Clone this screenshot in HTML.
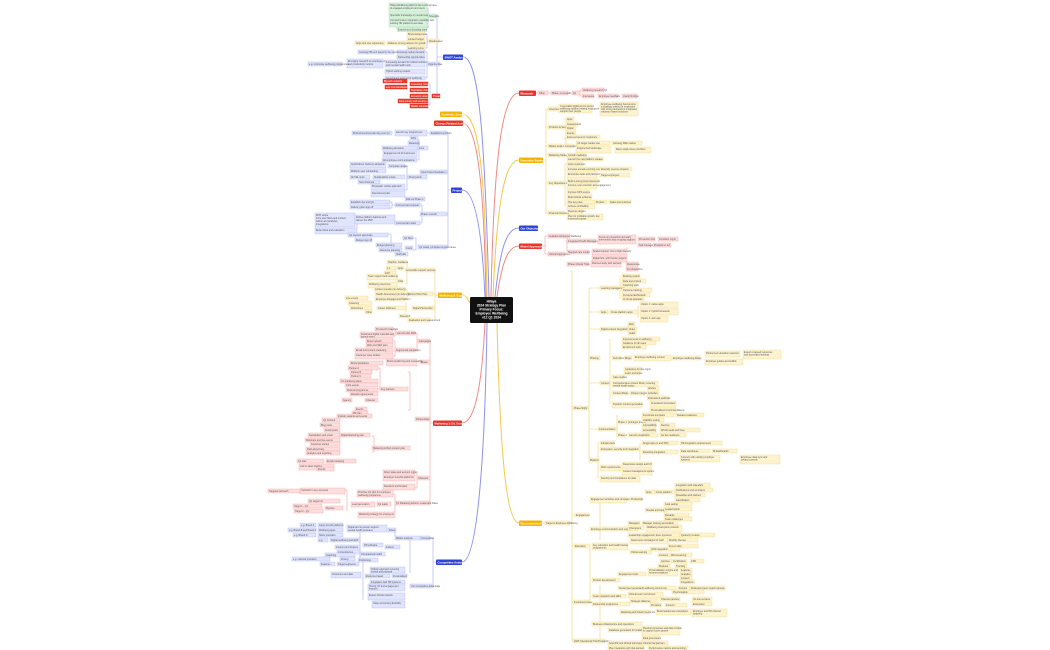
<!DOCTYPE html>
<html><head><meta charset="utf-8"><style>
html,body{margin:0;padding:0;background:#fff;width:1050px;height:650px;overflow:hidden}
svg{display:block;font-family:"Liberation Sans",sans-serif}
text{font-size:2.4px;fill:#555}
.bl rect{fill:#e0e4fc;stroke:#b0b8f4;stroke-width:.4}
.or rect{fill:#fdf3cf;stroke:#f1d98a;stroke-width:.4}
.rd rect{fill:#fddede;stroke:#f3a8a4;stroke-width:.4}
.gr rect{fill:#d9f2dd;stroke:#a3dbab;stroke-width:.4}
.rs rect{fill:#ef3b2d;stroke:#c92a1f;stroke-width:.4}
.rs text{fill:#fff}
.lb{stroke:#a3aaf2;fill:none;stroke-width:.6}
.lo{stroke:#f5d06a;fill:none;stroke-width:.6}
.lr{stroke:#f5a09a;fill:none;stroke-width:.6}
.m rect{stroke:none}
.m text{fill:#fff;font-size:2.8px;font-weight:bold}
</style></head><body>
<svg width="1050" height="650" viewBox="0 0 1050 650">
<!-- main connectors -->
<g stroke-width="1" fill="none">
<path d="M491 297 C494 150,503 93,519 93" stroke="#f08a84"/>
<path d="M493 297 C497 200,505 160,519 160" stroke="#f5c84a"/>
<path d="M495 297 C500 250,506 228,519 228" stroke="#8c93ee"/>
<path d="M497 297 C502 262,508 246,519 246" stroke="#f08a84"/>
<path d="M497 323 C500 450,506 523,519 523" stroke="#f5c84a"/>
<path d="M489 297 C485 150,480 57,463 57" stroke="#8c93ee"/>
<path d="M487 297 C485 180,480 114,462 114" stroke="#f5c84a"/>
<path d="M486 297 C484 190,478 123,462 123" stroke="#f08a84"/>
<path d="M485 297 C482 230,475 190,462 190" stroke="#8c93ee"/>
<path d="M470 303 C467 298,466 295,462 295" stroke="#f5c84a"/>
<path d="M485 323 C482 380,476 423,462 423" stroke="#f08a84"/>
<path d="M487 323 C485 450,478 562,462 562" stroke="#8c93ee"/>
</g>

<!-- center -->
<rect x="470" y="297" width="43" height="26" rx="1.5" fill="#111"/>
<g font-size="3.4" fill="#fff" text-anchor="middle" style="font-weight:bold">
<text x="491.5" y="302.5" style="fill:#fff;font-size:3.3px">Hilaya</text>
<text x="491.5" y="306.5" style="fill:#fff;font-size:3.3px">2024 Strategy Plan</text>
<text x="491.5" y="310.5" style="fill:#fff;font-size:3.3px">Primary Focus:</text>
<text x="491.5" y="314.5" style="fill:#fff;font-size:3.3px">Employee Wellbeing</text>
<text x="491.5" y="318.5" style="fill:#fff;font-size:3.3px">v12 Q1 2024</text>
</g>

<!-- main nodes -->
<g class="m">
<rect x="519" y="90.5" width="17" height="5.5" rx="1" fill="#e8342a"/><text x="520.5" y="94.3">Research</text>
<rect x="519" y="157.5" width="24" height="5.5" rx="1" fill="#f4b400"/><text x="520.5" y="161.3">Executive Summary</text>
<rect x="519" y="225.5" width="19" height="5.5" rx="1" fill="#2f44d6"/><text x="520.5" y="229.3">Our Objectives</text>
<rect x="519" y="243.5" width="23" height="5.5" rx="1" fill="#e8342a"/><text x="520.5" y="247.3">Model Approaches</text>
<rect x="519" y="520.5" width="23" height="5.5" rx="1" fill="#f4b400"/><text x="520.5" y="524.3">Recommended Plan</text>
<rect x="443" y="54.5" width="20" height="5.5" rx="1" fill="#2f44d6"/><text x="444.5" y="58.3">SWOT Analysis</text>
<rect x="440" y="111.5" width="22" height="5.5" rx="1" fill="#f4b400"/><text x="441.5" y="115.3">Academic Structure</text>
<rect x="434" y="120.5" width="29" height="5.5" rx="1" fill="#e8342a"/><text x="435.5" y="124.3">Change Related Activity</text>
<rect x="451" y="187.5" width="11" height="5.5" rx="1" fill="#2f44d6"/><text x="452.5" y="191.3">Project</text>
<rect x="438" y="292.5" width="24" height="5.5" rx="1" fill="#f4b400"/><text x="439.5" y="296.3">Wellbeing &amp; Support</text>
<rect x="433" y="420.5" width="29" height="5.5" rx="1" fill="#e8342a"/><text x="434.5" y="424.3">Marketing &amp; Ed. Strategy</text>
<rect x="436" y="559.5" width="26" height="5.5" rx="1" fill="#2f44d6"/><text x="437.5" y="563.3">Competitive Analysis</text>
</g>

<!-- ============ SWOT ============ -->
<path class="lb" d="M443 57H437 M437 16V96 M437 16H429 M437 41H429 M437 64H440 M437 96H432 M427 8H428V28H427 M427 16H429 M425 34H427V48H425 M427 41H429 M425 52H427V78H425 M427 64H428 M410 84H430V105H428 M430 96H432"/>
<g class="gr">
<rect x="389" y="3" width="38" height="9"/><text x="390" y="6">Hilaya Wellbeing platform has a strong base</text><text x="390" y="9">of engaged employers and users</text>
<rect x="389" y="13" width="38" height="4"/><text x="390" y="16">Specialist knowledge in mental health</text>
<rect x="389" y="18" width="38" height="9"/><text x="390" y="21">Comprehensive integration capability with</text><text x="390" y="24">existing HR platforms and data</text>
<rect x="397" y="27.5" width="30" height="4"/><text x="398" y="30.5">Experienced founding team</text>
<rect x="428" y="14" width="9" height="4"/><text x="429" y="17">Strengths</text>
</g>
<g class="or">
<rect x="407" y="32" width="18" height="4"/><text x="408" y="35">Brand awareness</text>
<rect x="407" y="37" width="18" height="4"/><text x="408" y="40">Limited budget</text>
<rect x="387" y="41" width="38" height="4"/><text x="388" y="44">Reliance on key partners for growth</text>
<rect x="355" y="41" width="30" height="4"/><text x="356" y="44">Apps and user experience</text>
<rect x="407" y="46" width="18" height="4"/><text x="408" y="49">Learning curve</text>
<rect x="428" y="39" width="11" height="4"/><text x="429" y="42">Weaknesses</text>
</g>
<g class="bl">
<rect x="397" y="50" width="28" height="4"/><text x="398" y="53">Growing market demand</text>
<rect x="358" y="50" width="36" height="4"/><text x="359" y="53">Growing HR tech spend in the sector</text>
<rect x="397" y="55" width="28" height="4"/><text x="398" y="58">Partnership opportunities</text>
<rect x="347" y="59" width="36" height="9"/><text x="348" y="62">Emerging research on employee wellbeing</text><text x="348" y="65">and productivity metrics</text>
<rect x="385" y="60" width="40" height="7"/><text x="386" y="63">Increasing demand for holistic solutions</text><text x="386" y="66">and mental health tools</text>
<rect x="308" y="62" width="34" height="4"/><text x="309" y="65">e.g. Corporate wellbeing programmes</text>
<rect x="385" y="69" width="40" height="5"/><text x="386" y="72">Hybrid working models</text>
<rect x="385" y="76" width="40" height="4"/><text x="386" y="79">Government support for wellbeing</text>
<rect x="427" y="62" width="13" height="4"/><text x="428" y="65">Opportunities</text>
</g>
<g class="rs">
<rect x="410" y="82" width="18" height="4"/><text x="411" y="85">Increasing competition</text>
<rect x="383" y="79" width="24" height="4"/><text x="384" y="82">Big tech entrants</text>
<rect x="385" y="85" width="22" height="4"/><text x="386" y="88">Low cost substitutes</text>
<rect x="410" y="88" width="18" height="4"/><text x="411" y="91">Regulatory change</text>
<rect x="410" y="94" width="18" height="4"/><text x="411" y="97">Economic downturn</text>
<rect x="398" y="99" width="30" height="4"/><text x="399" y="102">Data privacy and security concerns</text>
<rect x="410" y="104" width="18" height="4"/><text x="411" y="107">Market saturation</text>
<rect x="432" y="94" width="8" height="4"/><text x="433" y="97">Threats</text>
</g>

<!-- ============ Project ============ -->
<path class="lb" d="M451 190H448 M448 133V247 M448 133H447 M448 172H447 M448 214H447 M448 247H447 M427 133H430 M418 140H419V160H418 M419 148H420 M405 166H407V190H405 M407 177H408 M420 205H422V223H420 M390 202H392V208H390 M392 205H395 M355 220H357V228 M413 238H416V250H413 M388 234H391V250"/>
<g class="bl">
<rect x="430" y="131" width="17" height="4"/><text x="431" y="134">Establishment Plan</text>
<rect x="395" y="130" width="32" height="6"/><text x="396" y="133">Launch key programmes</text>
<rect x="352" y="131" width="40" height="4"/><text x="353" y="134">Build all sections planning over Q1</text>
<rect x="410" y="136" width="8" height="4"/><text x="411" y="139">KPIs</text>
<rect x="408" y="141" width="10" height="4"/><text x="409" y="144">Marketing</text>
<rect x="382" y="146" width="36" height="4"/><text x="383" y="149">Wellbeing all teams</text>
<rect x="418" y="146" width="10" height="4"/><text x="419" y="149">Core</text>
<rect x="383" y="151" width="34" height="6"/><text x="384" y="154">Engagement of all customers</text>
<rect x="382" y="158" width="35" height="4"/><text x="383" y="161">All employee communications</text>
<rect x="420" y="170" width="27" height="4"/><text x="421" y="173">Clear brand foundation</text>
<rect x="388" y="164" width="17" height="4"/><text x="389" y="167">Corporate design</text>
<rect x="350" y="162" width="36" height="6"/><text x="351" y="165">Applications: Delivery alongside</text>
<rect x="350" y="169" width="36" height="4"/><text x="351" y="172">Platform user onboarding</text>
<rect x="373" y="175" width="32" height="4"/><text x="374" y="178">Sustainability model</text>
<rect x="408" y="175" width="19" height="4"/><text x="409" y="178">Proof points</text>
<rect x="350" y="175" width="20" height="4"/><text x="351" y="178">All TRL work</text>
<rect x="358" y="180" width="22" height="4"/><text x="359" y="183">New channels</text>
<rect x="371" y="184" width="34" height="6"/><text x="372" y="187">Proposals: outline approach</text>
<rect x="371" y="191" width="34" height="6"/><text x="372" y="194">Recruitment plan</text>
<rect x="405" y="197" width="20" height="4"/><text x="406" y="200">Roll out Phase 1</text>
<rect x="420" y="212" width="27" height="4"/><text x="421" y="215">Phase: Launch</text>
<rect x="350" y="200" width="40" height="4"/><text x="351" y="203">Establish dev and QA</text>
<rect x="350" y="205" width="40" height="4"/><text x="351" y="208">Delivery plan sign off</text>
<rect x="395" y="203" width="25" height="4"/><text x="396" y="206">Commercial proposal</text>
<rect x="315" y="213" width="40" height="14"/><text x="316" y="216">MVP scope</text><text x="316" y="219">Core user flows and content</text><text x="316" y="222">Admin and analytics</text><text x="316" y="225">Integrations</text>
<rect x="355" y="215" width="40" height="9"/><text x="356" y="218">Define platform features and</text><text x="356" y="221">deliver the MVP</text>
<rect x="395" y="221" width="25" height="4"/><text x="396" y="224">Commercial model</text>
<rect x="315" y="228" width="42" height="6"/><text x="316" y="231">Beta rollout and evaluation</text>
<rect x="348" y="233" width="40" height="4"/><text x="349" y="236">Q1 sponsor approvals</text>
<rect x="355" y="238" width="17" height="4"/><text x="356" y="241">Budget sign off</text>
<rect x="376" y="243" width="26" height="4"/><text x="377" y="246">Budget planning</text>
<rect x="403" y="236" width="10" height="4"/><text x="404" y="239">Q1 Plan</text>
<rect x="405" y="246" width="8" height="4"/><text x="406" y="249">Costs</text>
<rect x="379" y="248" width="23" height="4"/><text x="380" y="251">Resource planning</text>
<rect x="395" y="252" width="13" height="4"/><text x="396" y="255">Staff plan</text>
<rect x="418" y="245" width="29" height="4"/><text x="419" y="248">Q1 Goals, principles &amp; governance</text>
</g>

<!-- ============ Wellbeing ============ -->
<path class="lo" d="M438 295H435 M435 270V320 M435 270H434 M435 294H433 M435 308H434 M405 262H407V284H405 M405 289H407V299H405 M405 303H406V312H405"/>
<g class="or">
<rect x="405" y="268" width="30" height="4"/><text x="406" y="271">Accessible support services</text>
<rect x="397" y="260" width="10" height="4"/><text x="398" y="263">Guidance</text>
<rect x="387" y="260" width="9" height="4"/><text x="388" y="263">Helpline</text>
<rect x="397" y="266" width="6" height="4"/><text x="398" y="269">Apps</text>
<rect x="386" y="266" width="10" height="4"/><text x="387" y="269">1:1</text>
<rect x="384" y="271" width="12" height="4"/><text x="385" y="274">EAP</text>
<rect x="367" y="274" width="30" height="6"/><text x="368" y="277">Team support and wellbeing</text>
<rect x="397" y="279" width="6" height="4"/><text x="398" y="282">Chat</text>
<rect x="368" y="282" width="29" height="6"/><text x="369" y="285">Wellbeing resources</text>
<rect x="407" y="292" width="26" height="4"/><text x="408" y="295">Partner Pitch Plan</text>
<rect x="374" y="287" width="31" height="4"/><text x="375" y="290">Content curation (in delivery)</text>
<rect x="375" y="292" width="30" height="4"/><text x="376" y="295">Health Assessment (in delivery)</text>
<rect x="375" y="297" width="30" height="4"/><text x="376" y="300">Employee Engagement Platform</text>
<rect x="345" y="296" width="23" height="4"/><text x="346" y="299">Live events</text>
<rect x="412" y="306" width="22" height="4"/><text x="413" y="309">Digital Partnership</text>
<rect x="348" y="301" width="24" height="4"/><text x="349" y="304">Coaching</text>
<rect x="377" y="306" width="28" height="4"/><text x="378" y="309">Career Wellness</text>
<rect x="350" y="306" width="22" height="4"/><text x="351" y="309">Workshops</text>
<rect x="365" y="310" width="7" height="4"/><text x="366" y="313">Other</text>
<rect x="399" y="314" width="9" height="4"/><text x="400" y="317">Research</text>
<rect x="408" y="318" width="22" height="4"/><text x="409" y="321">Evaluation and measurement</text>
</g>

<!-- ============ Marketing ============ -->
<path class="lr" d="M433 423H430 M430 341V503 M430 341H429 M430 362H429 M430 419H429 M430 478H429 M430 503H429 M415 333H417V350H415 M393 329H395V336H393 M393 341H395V356H393 M408 372H410V410H408 M378 368H380V389H378 M372 436H374V452H372 M415 472H417V488H415 M393 494H395V512H393 M345 490H347V511"/>
<g class="rd">
<rect x="418" y="339" width="12" height="4"/><text x="419" y="342">Campaigns</text>
<rect x="396" y="331" width="19" height="4"/><text x="397" y="334">Launch plan 2024</text>
<rect x="375" y="327" width="18" height="4"/><text x="376" y="330">Pre-launch materials</text>
<rect x="360" y="332" width="33" height="6"/><text x="361" y="335">Social and digital materials and</text><text x="361" y="337.5">launch event</text>
<rect x="395" y="348" width="20" height="4"/><text x="396" y="351">Segmented campaigns</text>
<rect x="366" y="339" width="27" height="4"/><text x="367" y="342">Brand refresh</text>
<rect x="366" y="343" width="27" height="4"/><text x="367" y="346">Web and SEO plan</text>
<rect x="355" y="348" width="38" height="4"/><text x="356" y="351">Email and content marketing</text>
<rect x="355" y="353" width="38" height="6"/><text x="356" y="356">Customer case studies</text>
<rect x="420" y="360" width="10" height="4"/><text x="421" y="363">Brand</text>
<rect x="386" y="359" width="31" height="7"/><text x="387" y="362">Brand positioning and messaging</text>
<rect x="350" y="361" width="33" height="4"/><text x="351" y="364">Brand guidelines</text>
<rect x="415" y="417" width="15" height="4"/><text x="416" y="420">Partnerships</text>
<rect x="380" y="387" width="28" height="4"/><text x="381" y="390">Key partners</text>
<rect x="348" y="366" width="30" height="4"/><text x="349" y="369">Partner A</text>
<rect x="350" y="370" width="22" height="4"/><text x="351" y="373">Partner B</text>
<rect x="350" y="374" width="21" height="4"/><text x="351" y="377">Partner C</text>
<rect x="340" y="379" width="38" height="4"/><text x="341" y="382">Co-marketing plans</text>
<rect x="345" y="383" width="33" height="4"/><text x="346" y="386">Joint events</text>
<rect x="346" y="388" width="32" height="4"/><text x="347" y="391">Referral programme</text>
<rect x="350" y="392" width="28" height="4"/><text x="351" y="395">Reseller agreements</text>
<rect x="365" y="398" width="13" height="4"/><text x="366" y="401">Channel</text>
<rect x="342" y="398" width="10" height="4"/><text x="343" y="401">Agency</text>
<rect x="355" y="407" width="12" height="4"/><text x="356" y="410">Events</text>
<rect x="352" y="411" width="16" height="4"/><text x="353" y="414">PR plan</text>
<rect x="337" y="414" width="35" height="4"/><text x="338" y="417">Industry awards and events</text>
<rect x="372" y="446" width="38" height="4"/><text x="373" y="449">Marketing &amp; Web content plan</text>
<rect x="322" y="418" width="18" height="4"/><text x="323" y="421">Q1 Content</text>
<rect x="320" y="423" width="20" height="4"/><text x="321" y="426">Blog posts</text>
<rect x="324" y="428" width="16" height="4"/><text x="325" y="431">Social posts</text>
<rect x="308" y="433" width="32" height="4"/><text x="309" y="436">Newsletters and email</text>
<rect x="340" y="433" width="30" height="4"/><text x="341" y="436">Digital Marketing plan</text>
<rect x="305" y="438" width="35" height="4"/><text x="306" y="441">Webinars and live events</text>
<rect x="310" y="442" width="30" height="4"/><text x="311" y="445">Customer stories</text>
<rect x="306" y="447" width="34" height="4"/><text x="307" y="450">Paid advertising</text>
<rect x="306" y="451" width="34" height="4"/><text x="307" y="454">Analytics and reporting</text>
<rect x="326" y="459" width="30" height="4"/><text x="327" y="462">Email marketing</text>
<rect x="297" y="459" width="27" height="4"/><text x="298" y="462">Q1 plan</text>
<rect x="299" y="464" width="35" height="6"/><text x="300" y="467">Link to sales pipeline</text>
<rect x="317" y="467" width="17" height="4"/><text x="318" y="470">Events</text>
<rect x="417" y="476" width="13" height="4"/><text x="418" y="479">Channels</text>
<rect x="383" y="470" width="32" height="4"/><text x="384" y="473">Direct sales and account mgmt</text>
<rect x="383" y="475" width="32" height="6"/><text x="384" y="478">Employer benefits platforms</text>
<rect x="383" y="484" width="32" height="6"/><text x="384" y="487">Resellers and brokers</text>
<rect x="395" y="501" width="35" height="4"/><text x="396" y="504">Q1 Marketing Actions, Leads and Sales</text>
<rect x="379" y="492" width="14" height="4"/><text x="380" y="495">Pilot sites</text>
<rect x="357" y="490" width="36" height="7"/><text x="358" y="493">Prioritise Q1 pilot for employee</text><text x="358" y="496">wellbeing programme</text>
<rect x="300" y="488" width="45" height="6"/><text x="301" y="491">Outreach to key accounts</text>
<rect x="268" y="489" width="32" height="4"/><text x="269" y="492">Targeted outreach</text>
<rect x="308" y="499" width="32" height="4"/><text x="309" y="502">Q1 target list</text>
<rect x="377" y="502" width="14" height="4"/><text x="378" y="505">Q1 leads</text>
<rect x="351" y="502" width="24" height="5"/><text x="352" y="505">Lead generation</text>
<rect x="293" y="504" width="29" height="4"/><text x="294" y="507">Target 1 - Q1</text>
<rect x="294" y="509" width="29" height="4"/><text x="295" y="512">Target 2 - Q1</text>
<rect x="325" y="506" width="18" height="4"/><text x="326" y="509">Pipeline</text>
<rect x="358" y="512" width="37" height="6"/><text x="359" y="515">Marketing strategy for employers</text>
</g>

<!-- ============ Competitive ============ -->
<path class="lb" d="M436 562H433 M433 538V586 M433 538H430 M433 586H410 M410 540V573 M395 530V536 M360 530V558 M363 560V600"/>
<g class="bl">
<rect x="420" y="536" width="10" height="4"/><text x="421" y="539">Competitors</text>
<rect x="395" y="536" width="25" height="4"/><text x="396" y="539">Market analysis</text>
<rect x="347" y="525" width="40" height="7"/><text x="348" y="528">Digital and in-person support</text><text x="348" y="531">mental health providers</text>
<rect x="388" y="528" width="8" height="4"/><text x="389" y="531">Direct</text>
<rect x="318" y="523" width="25" height="4"/><text x="319" y="526">Large benefit platforms</text>
<rect x="300" y="523" width="16" height="4"/><text x="301" y="526">e.g. Brand A</text>
<rect x="318" y="528" width="25" height="4"/><text x="319" y="531">Wellbeing apps</text>
<rect x="288" y="528" width="28" height="4"/><text x="289" y="531">e.g. Brand B and Brand C</text>
<rect x="318" y="533" width="25" height="4"/><text x="319" y="536">Niche providers</text>
<rect x="293" y="533" width="23" height="4"/><text x="294" y="536">e.g. Brand D</text>
<rect x="330" y="538" width="30" height="4"/><text x="331" y="541">Digital wellbeing and EAP</text>
<rect x="318" y="538" width="10" height="4"/><text x="319" y="541">e.g.</text>
<rect x="385" y="545" width="15" height="4"/><text x="386" y="548">Indirect</text>
<rect x="363" y="543" width="20" height="4"/><text x="364" y="546">HR software</text>
<rect x="335" y="545" width="25" height="4"/><text x="336" y="548">Insurers and brokers</text>
<rect x="337" y="550" width="23" height="4"/><text x="338" y="553">Consultancies</text>
<rect x="360" y="552" width="25" height="4"/><text x="361" y="555">Occupational health</text>
<rect x="325" y="553" width="30" height="4"/><text x="326" y="556">Coaching</text>
<rect x="292" y="557" width="38" height="4"/><text x="293" y="560">e.g. national providers</text>
<rect x="340" y="557" width="15" height="4"/><text x="341" y="560">Pricing</text>
<rect x="358" y="558" width="20" height="4"/><text x="359" y="561">Positioning</text>
<rect x="320" y="562" width="15" height="4"/><text x="321" y="565">Features</text>
<rect x="337" y="562" width="22" height="4"/><text x="338" y="565">Target segments</text>
<rect x="410" y="584" width="23" height="4"/><text x="411" y="587">Our Competitive Advantage</text>
<rect x="370" y="567" width="35" height="6"/><text x="371" y="570">Holistic approach covering</text><text x="371" y="572.5">mental and physical</text>
<rect x="392" y="574" width="15" height="4"/><text x="393" y="577">Personalised</text>
<rect x="365" y="574" width="25" height="4"/><text x="366" y="577">Evidence based</text>
<rect x="331" y="572" width="30" height="6"/><text x="332" y="575">Outcomes and data</text>
<rect x="370" y="580" width="35" height="4"/><text x="371" y="583">Integration with HR systems</text>
<rect x="368" y="584" width="37" height="7"/><text x="369" y="587">Strong UX and engagement</text><text x="369" y="589.5">features</text>
<rect x="368" y="593" width="37" height="7"/><text x="369" y="596">Expert clinical network</text>
<rect x="372" y="601" width="33" height="7"/><text x="373" y="604">Value and pricing flexibility</text>
</g>

<!-- ============ Research ============ -->
<path class="lr" d="M536 93H538 M548 93H551 M568 93H572 M582 90H580V96H582 M611 96H614"/>
<g class="rd">
<rect x="538" y="91" width="10" height="4"/><text x="539" y="94">Other</text>
<rect x="551" y="91" width="17" height="4"/><text x="552" y="94">Phase 1 research</text>
<rect x="572" y="91" width="8" height="4"/><text x="573" y="94">Q1</text>
<rect x="582" y="88" width="22" height="4"/><text x="583" y="91">Wellbeing research Q1</text>
<rect x="582" y="94" width="12" height="4"/><text x="583" y="97">Interviews</text>
<rect x="598" y="94" width="20" height="4"/><text x="599" y="97">Employee feedback</text>
<rect x="622" y="94" width="15" height="4"/><text x="623" y="97">Useful findings</text>
</g>

<!-- ============ Executive Summary ============ -->
<path class="lo" d="M543 160H546 M546 109V214 M546 109H548 M546 127H548 M546 146H548 M546 155H548 M546 183H548 M546 213H548 M564 119H566V138H564 M566 127H564 M564 139H566V148 M566 170H565 M565 164V207 M565 164H567"/>
<g class="or">
<rect x="548" y="107" width="13" height="4"/><text x="549" y="110">Overview</text>
<rect x="559" y="104" width="33" height="9"/><text x="560" y="107">A specialist digital and in-person</text><text x="560" y="109.5">wellbeing solution helping employers</text><text x="560" y="112">support their people</text>
<rect x="600" y="102" width="38" height="14"/><text x="601" y="105">Employee wellbeing has become</text><text x="601" y="107.5">a strategic priority for employers</text><text x="601" y="110">with strong demand for integrated</text><text x="601" y="112.5">evidence based solutions</text>
<rect x="548" y="125" width="18" height="4"/><text x="549" y="128">Products &amp; Services</text>
<rect x="566" y="117" width="8" height="4"/><text x="567" y="120">Apps</text>
<rect x="566" y="122" width="12" height="4"/><text x="567" y="125">Assessments</text>
<rect x="566" y="126" width="10" height="4"/><text x="567" y="129">Digital</text>
<rect x="566" y="131" width="10" height="4"/><text x="567" y="134">Events</text>
<rect x="566" y="135" width="34" height="4"/><text x="567" y="138">Extra services for customers</text>
<rect x="548" y="144" width="14" height="4"/><text x="549" y="147">Market Analysis</text>
<rect x="564" y="144" width="10" height="4"/><text x="565" y="147">Competitors</text>
<rect x="576" y="141" width="34" height="4"/><text x="577" y="144">UK target market size</text>
<rect x="612" y="141" width="30" height="4"/><text x="613" y="144">Growing SME market</text>
<rect x="576" y="146" width="35" height="7"/><text x="577" y="149">Fragmented landscape</text>
<rect x="615" y="147" width="36" height="6"/><text x="616" y="150">Many single issue providers</text>
<rect x="548" y="153" width="17" height="4"/><text x="549" y="156">Marketing Strategy</text>
<rect x="567" y="153" width="18" height="4"/><text x="568" y="156">Growth marketing</text>
<rect x="548" y="181" width="17" height="4"/><text x="549" y="184">Key Objectives 2024</text>
<rect x="567" y="157" width="36" height="4"/><text x="568" y="160">Launch the new platform release</text>
<rect x="567" y="162" width="16" height="4"/><text x="568" y="165">Grow customers</text>
<rect x="567" y="167" width="32" height="4"/><text x="568" y="170">Increase annual recurring revenue</text>
<rect x="600" y="167" width="32" height="4"/><text x="601" y="170">Diversify revenue streams</text>
<rect x="567" y="172" width="30" height="6"/><text x="568" y="175">Enterprise deals and partnerships</text>
<rect x="600" y="173" width="30" height="4"/><text x="601" y="176">Target employers</text>
<rect x="567" y="179" width="32" height="4"/><text x="568" y="182">Build a strong brand presence</text>
<rect x="567" y="183" width="30" height="6"/><text x="568" y="186">Improve user retention and engagement</text>
<rect x="567" y="190" width="22" height="4"/><text x="568" y="193">Improve NPS scores</text>
<rect x="567" y="195" width="25" height="4"/><text x="568" y="198">Build clinical evidence</text>
<rect x="567" y="200" width="28" height="4"/><text x="568" y="203">Hire key roles</text>
<rect x="595" y="200" width="12" height="4"/><text x="596" y="203">Product</text>
<rect x="609" y="200" width="22" height="4"/><text x="610" y="203">Sales and customer</text>
<rect x="567" y="204" width="28" height="5"/><text x="568" y="207">Achieve profitability</text>
<rect x="548" y="211" width="17" height="4"/><text x="549" y="214">Financial Overview</text>
<rect x="567" y="209" width="16" height="4"/><text x="568" y="212">Revenue targets</text>
<rect x="567" y="214" width="36" height="6"/><text x="568" y="217">Plan for profitable growth, key</text><text x="568" y="219.5">investment areas</text>
</g>

<!-- ============ Model Approaches ============ -->
<path class="lr" d="M542 246H545 M545 236V254 M545 236H548 M545 254H548 M565 241H567 M567 241V250 M598 239H600V245 M626 241H628 M626 248H628"/>
<g class="rd">
<rect x="548" y="234" width="22" height="4"/><text x="549" y="237">Available Employee Wellbeing</text>
<rect x="548" y="252" width="17" height="4"/><text x="549" y="255">Clinical Approaches</text>
<rect x="567" y="239" width="29" height="4"/><text x="568" y="242">Integrated Health Management</text>
<rect x="598" y="235" width="38" height="9"/><text x="599" y="238">Focus on prevention and early</text><text x="599" y="240.5">intervention and on-going support</text>
<rect x="638" y="237" width="17" height="4"/><text x="639" y="240">Prevention first</text>
<rect x="658" y="237" width="20" height="4"/><text x="659" y="240">Condition mgmt</text>
<rect x="638" y="243" width="13" height="4"/><text x="639" y="246">Self-management</text>
<rect x="653" y="243" width="18" height="4"/><text x="654" y="246">Practitioner led</text>
<rect x="567" y="250" width="22" height="4"/><text x="568" y="253">Stepped care model</text>
<rect x="592" y="249" width="35" height="6"/><text x="593" y="252">Scaled support: low to high intensity</text>
<rect x="592" y="256" width="35" height="6"/><text x="593" y="259">Digital first, with human support</text>
<rect x="567" y="262" width="22" height="4"/><text x="568" y="265">Phase Clinical Trials</text>
<rect x="591" y="261" width="30" height="6"/><text x="592" y="264">Planned study with partners</text>
<rect x="626" y="262" width="12" height="4"/><text x="627" y="265">Ideas/scope</text>
<rect x="626" y="267" width="12" height="4"/><text x="627" y="270">Funding/ethics</text>
</g>

<!-- ============ Recommended Plan ============ -->
<path class="lo" d="M542 523H545 M570 523H572 M572 270V641 M572 408H573 M572 515H575 M572 546H574 M572 602H573 M572 641H573 M588 408H589 M589 288V460 M589 288H600 M589 312H600 M589 329H600 M589 383H600 M589 429H598 M589 460H600 M620 276V299 M608 312H610 M638 305V318 M628 324V333 M610 339V404 M617 415V436 M598 442V478 M640 443V460 M600 500V540 M590 548V575 M590 575V600 M600 585V640"/>
<g class="or">
<rect x="545" y="521" width="25" height="4"/><text x="546" y="524">Target is Employee Wellbeing</text>
<rect x="573" y="406" width="15" height="4"/><text x="574" y="409">Phase Right</text>
<rect x="600" y="286" width="22" height="4"/><text x="601" y="289">Learning management</text>
<rect x="622" y="274" width="18" height="4"/><text x="623" y="277">Booking system</text>
<rect x="622" y="279" width="24" height="4"/><text x="623" y="282">Data and content</text>
<rect x="622" y="283" width="14" height="4"/><text x="623" y="286">Coaching tools</text>
<rect x="622" y="288" width="30" height="4"/><text x="623" y="291">Outcome tracking</text>
<rect x="622" y="293" width="28" height="4"/><text x="623" y="296">Personal dashboards</text>
<rect x="622" y="297" width="22" height="4"/><text x="623" y="300">AI virtual assistant</text>
<rect x="600" y="310" width="8" height="4"/><text x="601" y="313">Apps</text>
<rect x="610" y="310" width="28" height="4"/><text x="611" y="313">Cross-platform apps</text>
<rect x="640" y="302" width="38" height="6"/><text x="641" y="305">Option 1: native apps</text>
<rect x="640" y="309" width="38" height="6"/><text x="641" y="312">Option 2: hybrid framework</text>
<rect x="640" y="316" width="28" height="6"/><text x="641" y="319">Option 3: web app</text>
<rect x="600" y="327" width="28" height="4"/><text x="601" y="330">Digital content integration</text>
<rect x="628" y="322" width="7" height="4"/><text x="629" y="325">Web</text>
<rect x="628" y="327" width="9" height="4"/><text x="629" y="330">Video</text>
<rect x="628" y="331" width="8" height="4"/><text x="629" y="334">Audio</text>
<rect x="589" y="356" width="11" height="4"/><text x="590" y="359">Phasing</text>
<rect x="600" y="381" width="10" height="4"/><text x="601" y="384">Content</text>
<rect x="622" y="337" width="38" height="4"/><text x="623" y="340">Improvements to wellbeing</text>
<rect x="622" y="341" width="34" height="4"/><text x="623" y="344">Guidance for all users</text>
<rect x="622" y="345" width="24" height="4"/><text x="623" y="348">Enrichment tools</text>
<rect x="612" y="356" width="9" height="4"/><text x="613" y="359">Full rollout</text>
<rect x="624" y="356" width="8" height="4"/><text x="625" y="359">Blogs</text>
<rect x="634" y="355" width="37" height="6"/><text x="635" y="358">Employee wellbeing content</text>
<rect x="672" y="356" width="28" height="4"/><text x="673" y="359">Employee wellbeing library</text>
<rect x="705" y="351" width="35" height="6"/><text x="706" y="354">Partner-led education sessions</text>
<rect x="705" y="359" width="38" height="6"/><text x="706" y="362">Employer guides and toolkits</text>
<rect x="743" y="350" width="38" height="9"/><text x="744" y="353">Expert reviewed resources</text><text x="744" y="355.5">and accredited learning</text>
<rect x="624" y="367" width="18" height="4"/><text x="625" y="370">Guidelines for line mgmt</text>
<rect x="624" y="371" width="16" height="4"/><text x="625" y="374">Learn and share</text>
<rect x="612" y="375" width="12" height="4"/><text x="613" y="378">Case studies</text>
<rect x="612" y="381" width="46" height="6"/><text x="613" y="384">Comprehensive content library covering</text><text x="613" y="386.5">mental health topics</text>
<rect x="612" y="391" width="16" height="4"/><text x="613" y="394">Content library</text>
<rect x="630" y="391" width="15" height="4"/><text x="631" y="394">Partner integration</text>
<rect x="647" y="386" width="12" height="4"/><text x="648" y="389">Articles</text>
<rect x="647" y="391" width="12" height="4"/><text x="648" y="394">Activities</text>
<rect x="647" y="396" width="22" height="4"/><text x="648" y="399">Podcasts &amp; webinars</text>
<rect x="612" y="402" width="30" height="6"/><text x="613" y="405">Dynamic content generation</text>
<rect x="650" y="401" width="26" height="6"/><text x="651" y="404">AI-assisted summaries</text>
<rect x="650" y="408" width="26" height="6"/><text x="651" y="411">Personalised recommendations</text>
<rect x="598" y="427" width="19" height="4"/><text x="599" y="430">Implementation</text>
<rect x="617" y="420" width="23" height="4"/><text x="618" y="423">Phase 1: prototype testing</text>
<rect x="642" y="413" width="32" height="4"/><text x="643" y="416">Functional test plans</text>
<rect x="676" y="413" width="28" height="4"/><text x="677" y="416">Release readiness</text>
<rect x="642" y="418" width="22" height="4"/><text x="643" y="421">Usability testing</text>
<rect x="642" y="423" width="14" height="4"/><text x="643" y="426">Compatibility</text>
<rect x="660" y="423" width="15" height="4"/><text x="661" y="426">Devices</text>
<rect x="642" y="428" width="14" height="4"/><text x="643" y="431">Accessibility</text>
<rect x="660" y="428" width="40" height="4"/><text x="661" y="431">WCAG audit and fixes</text>
<rect x="617" y="433" width="8" height="4"/><text x="618" y="436">Phase 2</text>
<rect x="628" y="433" width="30" height="4"/><text x="629" y="436">Launch preparation</text>
<rect x="660" y="433" width="26" height="4"/><text x="661" y="436">Go live readiness</text>
<rect x="589" y="458" width="10" height="4"/><text x="590" y="461">Platform</text>
<rect x="600" y="441" width="14" height="4"/><text x="601" y="444">Infrastructure</text>
<rect x="600" y="447" width="40" height="4"/><text x="601" y="450">Ecosystem, security and integration</text>
<rect x="642" y="441" width="36" height="4"/><text x="643" y="444">Single sign-on and SSO</text>
<rect x="680" y="441" width="42" height="4"/><text x="681" y="444">HR integration requirements</text>
<rect x="642" y="450" width="36" height="4"/><text x="643" y="453">Reporting integration</text>
<rect x="680" y="449" width="30" height="4"/><text x="681" y="452">Data warehouse</text>
<rect x="712" y="449" width="25" height="4"/><text x="713" y="452">BI dashboards</text>
<rect x="680" y="455" width="40" height="7"/><text x="681" y="458">Connect with existing employer</text><text x="681" y="460.5">systems</text>
<rect x="740" y="455" width="40" height="9"/><text x="741" y="458">Employee data sync and</text><text x="741" y="460.5">privacy controls</text>
<rect x="600" y="465" width="21" height="6"/><text x="601" y="468">Web requirements</text>
<rect x="622" y="462" width="30" height="6"/><text x="623" y="465">Responsive design and UX</text>
<rect x="622" y="469" width="30" height="6"/><text x="623" y="472">Content management system</text>
<rect x="600" y="476" width="40" height="6"/><text x="601" y="479">Security and compliance for data</text>
<rect x="575" y="513" width="14" height="4"/><text x="576" y="516">Engagement</text>
<rect x="590" y="497" width="37" height="6"/><text x="591" y="500">Engagement activities and campaigns</text>
<rect x="630" y="497" width="12" height="4"/><text x="631" y="500">Productivity</text>
<rect x="645" y="490" width="10" height="4"/><text x="646" y="493">Apps</text>
<rect x="655" y="490" width="22" height="4"/><text x="656" y="493">Cross platform</text>
<rect x="675" y="483" width="35" height="4"/><text x="676" y="486">Integration with calendars</text>
<rect x="675" y="488" width="38" height="4"/><text x="676" y="491">Notifications and reminders</text>
<rect x="675" y="493" width="30" height="4"/><text x="676" y="496">Wearables and trackers</text>
<rect x="675" y="498" width="25" height="4"/><text x="676" y="501">Gamification</text>
<rect x="645" y="508" width="22" height="4"/><text x="646" y="511">Streaks and badges</text>
<rect x="664" y="502" width="28" height="4"/><text x="665" y="505">Goal setting</text>
<rect x="664" y="507" width="28" height="4"/><text x="665" y="510">Leaderboards</text>
<rect x="664" y="513" width="25" height="4"/><text x="665" y="516">Rewards</text>
<rect x="664" y="517" width="28" height="4"/><text x="665" y="520">Team challenges</text>
<rect x="590" y="527" width="48" height="4"/><text x="591" y="530">Employee communication and engagement</text>
<rect x="628" y="521" width="12" height="4"/><text x="629" y="524">Managers</text>
<rect x="642" y="521" width="36" height="4"/><text x="643" y="524">Manager training and toolkits</text>
<rect x="628" y="526" width="16" height="4"/><text x="629" y="529">Champions</text>
<rect x="646" y="525" width="36" height="7"/><text x="647" y="528">Wellbeing champions network</text>
<rect x="628" y="533" width="26" height="4"/><text x="629" y="536">Leadership engagement</text>
<rect x="655" y="533" width="25" height="4"/><text x="656" y="536">Exec sponsors</text>
<rect x="680" y="533" width="35" height="4"/><text x="681" y="536">Quarterly reviews</text>
<rect x="574" y="544" width="16" height="4"/><text x="575" y="547">Education</text>
<rect x="592" y="543" width="36" height="7"/><text x="593" y="546">Key education and health literacy</text><text x="593" y="548.5">programmes</text>
<rect x="630" y="538" width="38" height="6"/><text x="631" y="541">Awareness campaigns for staff</text>
<rect x="668" y="538" width="30" height="4"/><text x="669" y="541">Monthly themes</text>
<rect x="668" y="544" width="30" height="4"/><text x="669" y="547">Expert talks</text>
<rect x="630" y="550" width="22" height="4"/><text x="631" y="553">Online learning</text>
<rect x="650" y="547" width="30" height="4"/><text x="651" y="550">LMS integration</text>
<rect x="658" y="553" width="12" height="4"/><text x="659" y="556">Courses</text>
<rect x="670" y="553" width="22" height="4"/><text x="671" y="556">Micro-learning</text>
<rect x="660" y="559" width="12" height="4"/><text x="661" y="562">Quizzes</text>
<rect x="672" y="559" width="15" height="4"/><text x="673" y="562">Certification</text>
<rect x="690" y="559" width="14" height="4"/><text x="691" y="562">CPD</text>
<rect x="658" y="564" width="12" height="4"/><text x="659" y="567">Modules</text>
<rect x="675" y="564" width="12" height="4"/><text x="676" y="567">Tracking</text>
<rect x="573" y="600" width="17" height="4"/><text x="574" y="603">Investment Areas</text>
<rect x="592" y="578" width="28" height="4"/><text x="593" y="581">Product development</text>
<rect x="618" y="572" width="28" height="4"/><text x="619" y="575">Engagement tools</text>
<rect x="648" y="568" width="30" height="8"/><text x="649" y="571">Personalisation engine and</text><text x="649" y="573.5">recommendations</text>
<rect x="680" y="568" width="12" height="4"/><text x="681" y="571">Features</text>
<rect x="680" y="572" width="12" height="4"/><text x="681" y="575">Analytics</text>
<rect x="680" y="576" width="12" height="4"/><text x="681" y="579">Content</text>
<rect x="680" y="580" width="15" height="4"/><text x="681" y="583">Integrations</text>
<rect x="618" y="586" width="58" height="4"/><text x="619" y="589">Social (user generated) wellbeing community</text>
<rect x="678" y="586" width="12" height="4"/><text x="679" y="589">Forums</text>
<rect x="690" y="586" width="35" height="4"/><text x="691" y="589">Moderated peer support groups</text>
<rect x="592" y="594" width="34" height="4"/><text x="593" y="597">Team expansion and skills</text>
<rect x="628" y="592" width="35" height="6"/><text x="629" y="595">Clinical team recruitment</text>
<rect x="672" y="590" width="32" height="4"/><text x="673" y="593">Psychologists</text>
<rect x="592" y="602" width="38" height="4"/><text x="593" y="605">Partnership programme</text>
<rect x="630" y="599" width="28" height="4"/><text x="631" y="602">Strategic alliances</text>
<rect x="660" y="597" width="20" height="4"/><text x="661" y="600">Channel partners</text>
<rect x="650" y="603" width="12" height="4"/><text x="651" y="606">Providers</text>
<rect x="665" y="603" width="22" height="4"/><text x="666" y="606">Insurers</text>
<rect x="692" y="597" width="20" height="4"/><text x="693" y="600">On-site services</text>
<rect x="692" y="602" width="20" height="4"/><text x="693" y="605">Ecosystem</text>
<rect x="620" y="610" width="30" height="4"/><text x="621" y="613">Marketing and brand investment</text>
<rect x="656" y="609" width="35" height="6"/><text x="657" y="612">Brand awareness campaigns</text>
<rect x="692" y="609" width="35" height="8"/><text x="693" y="612">Employer and HR channel</text><text x="693" y="614.5">targeting</text>
<rect x="592" y="622" width="50" height="4"/><text x="593" y="625">Business infrastructure and operations</text>
<rect x="573" y="639" width="32" height="4"/><text x="574" y="642">2025 Operational Trial Preparation</text>
<rect x="608" y="628" width="38" height="4"/><text x="609" y="631">Database generation for scalability</text>
<rect x="642" y="626" width="38" height="9"/><text x="643" y="629">Develop processes and data models</text><text x="643" y="631.5">to support future growth</text>
<rect x="642" y="636" width="18" height="4"/><text x="643" y="639">Data governance</text>
<rect x="608" y="641" width="36" height="4"/><text x="609" y="644">Scientific and clinical trial support</text>
<rect x="642" y="641" width="26" height="4"/><text x="643" y="644">Clinical trial partners</text>
<rect x="608" y="646" width="36" height="4"/><text x="609" y="649">Plan integration with trial partners</text>
<rect x="648" y="646" width="40" height="4"/><text x="649" y="649">Performance metrics and reporting</text>
</g>
</svg>
</body></html>
